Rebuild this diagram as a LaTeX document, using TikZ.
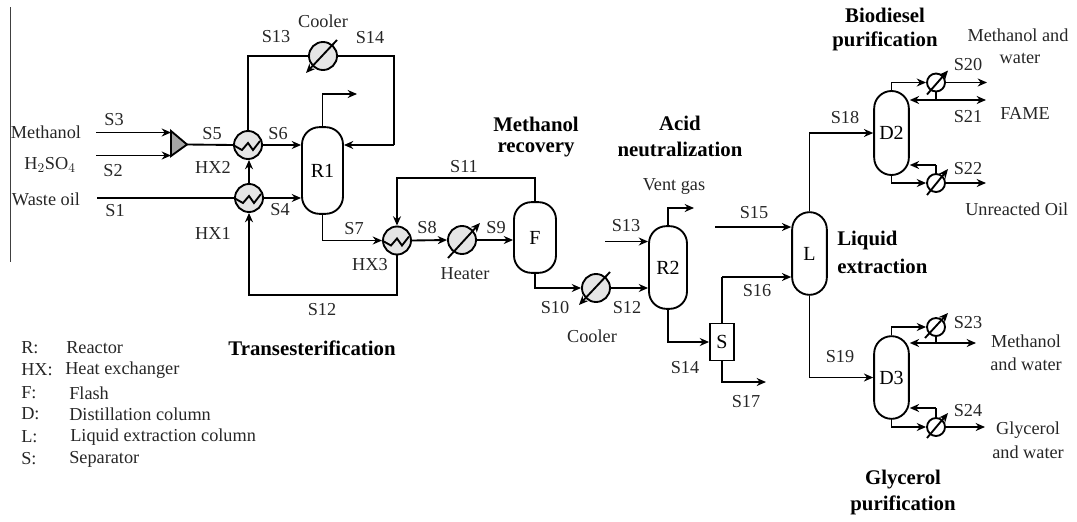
\documentclass[tikz,border=0pt]{standalone}
\usepackage{fontspec}
\setmainfont{Liberation Serif}
\usepackage{tikz}
\usetikzlibrary{positioning,arrows.meta}

\tikzset{
  lab/.style={inner sep=0pt,font=\fontsize{13.7pt}{15pt}\selectfont,text=black!85},
  head/.style={inner sep=0pt,font=\fontsize{15.6pt}{18pt}\selectfont\bfseries},
  legend/.style={lab,anchor=west},
  vessel/.style={draw,line width=1.4pt,rounded corners=13pt,inner sep=0pt,font=\fontsize{15pt}{15pt}\selectfont},
  exch/.style={draw,circle,line width=1.4pt,fill=black!10,inner sep=0pt,minimum size=21pt},
  cond/.style={draw,circle,line width=1.4pt,fill=white,inner sep=0pt,minimum size=13.5pt},
  stream/.style={line width=1.4pt,->},
  pipe/.style={line width=1.4pt},
}

\begin{document}
\begin{tikzpicture}[x=0.75pt,y=-0.75pt,>={Stealth[length=7pt,width=6pt]}]
    \useasboundingbox (0,0) rectangle (1077,521);
    \draw[black!75,line width=0.8pt] (10.5,7) -- (10.5,262);

    % Free ends of the feeds and products
    \coordinate (feedm) at (96,132.5);
    \coordinate (feedh) at (96,155.5);
    \coordinate (feedw) at (97,198);
    \coordinate (mixa) at (171,131);
    \coordinate (mixb) at (171,156);
    \coordinate (mixc) at (187,144.5);
    \coordinate (ventone) at (357,94);
    \coordinate (retone) at (394,145);
    \coordinate (botone) at (397,295);
    \coordinate (topf) at (535,178);
    \coordinate (feedr) at (605,241.5);
    \coordinate (venttwo) at (694,208);
    \coordinate (feedl) at (715,227);
    \coordinate (extl) at (722,277);
    \coordinate (sepout) at (766,382);

    % Equipment
    \node[vessel,minimum width=30.75pt,minimum height=65pt] (rone) at (322.5,170.5) {\raisebox{-2.5pt}{R1}};
    \node[vessel,minimum width=31.5pt,minimum height=53pt] (flash) at (535,237.5) {\raisebox{-3pt}{F}};
    \node[vessel,minimum width=28.5pt,minimum height=62pt] (rtwo) at (668,267.5) {R2};
    \node[vessel,minimum width=26pt,minimum height=62pt] (lle) at (809.5,253.5) {L};
    \node[vessel,minimum width=26pt,minimum height=63pt] (dtwo) at (891.5,133) {\raisebox{-2pt}{D2}};
    \node[vessel,minimum width=26pt,minimum height=62pt] (dthree) at (891.5,377.5) {D3};
    \node[draw,line width=1.4pt,inner sep=0pt,minimum width=18pt,minimum height=27.75pt,font=\fontsize{15pt}{15pt}\selectfont] (sep) at (722,342) {S};
    \node[exch] (hxa) at (249,198) {};
    \node[exch] (hxb) at (248,145) {};
    \node[exch] (hxc) at (397,240.5) {};
    \node[exch] (coolera) at (323,56) {};
    \node[exch] (heater) at (462,240) {};
    \node[exch] (coolerb) at (596,288) {};
    \node[cond] (conda) at (936,82.5) {};
    \node[cond] (condb) at (936,183) {};
    \node[cond] (condc) at (936,327) {};
    \node[cond] (condd) at (936,427) {};
    \draw[pipe,fill=black!35] (mixa) -- (mixc) -- (mixb) -- cycle;

    % Zigzag of each heat exchanger
    \foreach \n in {hxa,hxb,hxc}
        \draw[pipe] (\n.west) -- ([shift={(-6,5)}]\n.center) -- ([shift={(0,-2)}]\n.center) -- ([shift={(5,5)}]\n.center) -- ([shift={(12,-4)}]\n.center);

    % Arrow through the coolers and heater
    \draw[stream] ([shift={(14,-16)}]coolera.center) -- ([shift={(-17,17)}]coolera.center);
    \draw[stream] ([shift={(-14,18)}]heater.center) -- ([shift={(18,-17)}]heater.center);
    \draw[stream] ([shift={(14,-16)}]coolerb.center) -- ([shift={(-17,17)}]coolerb.center);
    \draw[stream] ([shift={(-9,12)}]conda.center) -- ([shift={(12,-12)}]conda.center);
    \draw[stream] ([shift={(-9,12)}]condb.center) -- ([shift={(12,-14)}]condb.center);
    \draw[stream] ([shift={(-11,11)}]condc.center) -- ([shift={(12,-14)}]condc.center);
    \draw[stream] ([shift={(-9,11)}]condd.center) -- ([shift={(12,-14)}]condd.center);

    % Transesterification
    \draw[stream] (feedm) -- (mixa |- feedm);
    \draw[stream] (feedh) -- (mixa |- feedh);
    \draw[pipe] (mixc) -- (hxb.west);
    \draw[pipe] (feedw) -- (hxa.west);
    \draw[stream] (hxa.east) -- (rone.west |- hxa.east);
    \draw[stream] (hxa.north) -- (hxa.north |- hxb.south);
    \draw[stream] (hxb.east) -- (rone.west |- hxb.east);
    \draw[pipe] (hxb.north) |- (coolera.west);
    \draw[pipe] (coolera.east) -| (retone);
    \draw[stream] (retone) -- (rone.east |- retone);
    \draw[stream] (rone.north) |- (ventone);
    \draw[stream] (rone.south) |- (hxc.west);
    \draw[stream] (hxc.south) -- (botone) -| (hxa.south);

    % Methanol recovery
    \draw[stream] (hxc.east) -- (heater.west);
    \draw[stream] (heater.east) -- (flash.west |- heater.east);
    \draw[stream] (flash.north) -- (topf) -| (hxc.north);
    \draw[stream] (flash.south) |- (coolerb.west);

    % Acid neutralization
    \draw[stream] (coolerb.east) -- (rtwo.west |- coolerb.east);
    \draw[stream] (feedr) -- (rtwo.west |- feedr);
    \draw[stream] (rtwo.north) |- (venttwo);
    \draw[stream] (rtwo.south) |- (sep.west);
    \draw[pipe] (sep.north) -- (extl);
    \draw[stream] (extl) -- (lle.west |- extl);
    \draw[stream] (sep.south) |- (sepout);
    \draw[stream] (feedl) -- (lle.west |- feedl);

    % Liquid extraction to the columns
    \draw[stream] (lle.north) |- (dtwo.west);
    \draw[stream] (lle.south) |- (dthree.west);

    % Column D2
    \coordinate (cabend) at (936,100);
    \coordinate (cbbend) at (936,165);
    \draw[stream] (dtwo.north) |- (conda.west);
    \draw[stream] (conda.east) -- (987,82.5);
    \draw[pipe] (conda.south) -- (cabend);
    \draw[stream] (cabend) -- (dtwo.east |- cabend);
    \draw[stream] (cabend) -- (986,100);
    \draw[stream] (dtwo.south) |- (condb.west);
    \draw[stream] (condb.east) -- (986,183);
    \draw[pipe] (condb.north) -- (cbbend);
    \draw[stream] (cbbend) -- (dtwo.east |- cbbend);

    % Column D3
    \coordinate (ccbend) at (936,343);
    \coordinate (cdbend) at (936,408);
    \draw[stream] (dthree.north) |- (condc.west);
    \draw[pipe] (condc.south) -- (ccbend);
    \draw[stream] (ccbend) -- (dthree.east |- ccbend);
    \draw[stream] (ccbend) -- (976,343);
    \draw[stream] (dthree.south) |- (condd.west);
    \draw[stream] (condd.east) -- (985,427);
    \draw[pipe] (condd.north) -- (cdbend);
    \draw[stream] (cdbend) -- (dthree.east |- cdbend);

    % Stream labels
    \node[lab] (lsa) at (114,120) {S3};
    \node[lab] (lsb) at (113,171) {S2};
    \node[lab] (lsc) at (115,211) {S1};
    \node[lab] (lsd) at (212,134) {S5};
    \node[lab] (lse) at (278,134) {S6};
    \node[lab] (lsf) at (280,210) {S4};
    \node[lab] (lsg) at (276,37) {S13};
    \node[lab] (lsh) at (370,38) {S14};
    \node[lab] (lsi) at (354,229) {S7};
    \node[lab] (lsj) at (322,310) {S12};
    \node[lab] (lsk) at (427,228) {S8};
    \node[lab] (lsl) at (496,228) {S9};
    \node[lab] (lsm) at (464,167) {S11};
    \node[lab] (lsn) at (555,308) {S10};
    \node[lab] (lso) at (627,308) {S12};
    \node[lab] (lsp) at (626,226) {S13};
    \node[lab] (lsq) at (754,213) {S15};
    \node[lab] (lsr) at (757,291) {S16};
    \node[lab] (lss) at (685,368) {S14};
    \node[lab] (lst) at (746,402) {S17};
    \node[lab] (lsu) at (845,118) {S18};
    \node[lab] (lsv) at (840,357) {S19};
    \node[lab] (lsw) at (968,65) {S20};
    \node[lab] (lsx) at (968,117) {S21};
    \node[lab] (lsy) at (968,169) {S22};
    \node[lab] (lsz) at (968,323) {S23};
    \node[lab] (lsaa) at (968,411) {S24};

    % Equipment and product labels
    \node[lab] (lmeth) at (46,132) {Methanol};
    \node[lab] (lacid) at (50,165) {H$_2$SO$_4$};
    \node[lab] (lwaste) at (46,199) {Waste oil};
    \node[lab] (lhxb) at (213,167) {HX2};
    \node[lab] (lhxa) at (213,233) {HX1};
    \node[lab] (lhxc) at (370,265) {HX3};
    \node[lab] (lcoola) at (323,21) {Cooler};
    \node[lab] (lheat) at (465,274) {Heater};
    \node[lab] (lcoolb) at (592,336) {Cooler};
    \node[lab] (lvent) at (674,186) {Vent gas};
    \node[lab] (lprodaa) at (1018,35) {Methanol and};
    \node[lab] (lprodab) at (1020,58) {water};
    \node[lab] (lprodb) at (1025,113) {FAME};
    \node[lab,anchor=west] (lprodc) at (965,209) {Unreacted Oil};
    \node[lab] (lproda) at (1026,341) {Methanol};
    \node[lab] (lproda2) at (1026,364) {and water};
    \node[lab] (lprode) at (1028,430) {Glycerol};
    \node[lab] (lprode2) at (1028,452) {and water};

    % Section headings
    \node[head] (hbioa) at (885,15) {Biodiesel};
    \node[head] (hbiob) at (885,41) {purification};
    \node[head] (hmeta) at (536,124) {Methanol};
    \node[head] (hmetb) at (536,150) {recovery};
    \node[head] (hacida) at (680,123) {Acid};
    \node[head] (hacidb) at (680,149) {neutralization};
    \node[head,anchor=west] (hliqa) at (837,240) {Liquid};
    \node[head,anchor=west] (hliqb) at (837,266) {extraction};
    \node[head] (htrans) at (312,348) {Transesterification};
    \node[head] (hglya) at (903,480) {Glycerol};
    \node[head] (hglyb) at (903,505) {purification};

    % Legend
    \node[legend] (kra) at (21,348) {R:};
    \node[legend] (krb) at (66,348) {Reactor};
    \node[legend] (kha) at (21,370) {HX:};
    \node[legend] (khb) at (65,370) {Heat exchanger};
    \node[legend] (kfa) at (21,393) {F:};
    \node[legend] (kfb) at (69,393) {Flash};
    \node[legend] (kda) at (21,414) {D:};
    \node[legend] (kdb) at (69,414) {Distillation column};
    \node[legend] (kla) at (21,437) {L:};
    \node[legend] (klb) at (70,437) {Liquid extraction column};
    \node[legend] (ksa) at (21,459) {S:};
    \node[legend] (ksb) at (69,459) {Separator};
\end{tikzpicture}
\end{document}
